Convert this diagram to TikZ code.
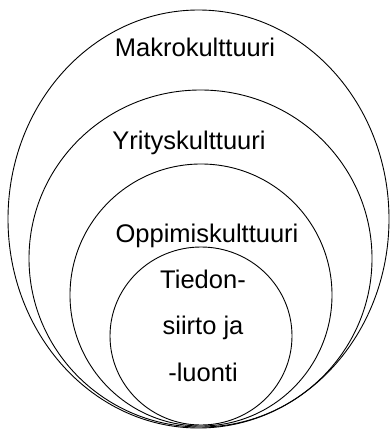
\documentclass[tikz,border=0pt]{standalone}
\usepackage{fontspec}
\setmainfont{Liberation Sans}
\usetikzlibrary{shapes.geometric}

\begin{document}
\begin{tikzpicture}[
    x=1pt, y=-1pt,
    font=\fontsize{25.5}{46.5}\selectfont,
    ring/.style={draw, ellipse, line width=0.9pt, inner sep=0pt},
    lbl/.style={anchor=base, align=center, inner sep=0pt},
  ]
    \useasboundingbox (0,0) rectangle (389,430);

    \node[ring, minimum width=381pt, minimum height=418pt] (makro) at (198.5,219) {};
    \node[ring, minimum width=343pt, minimum height=337pt] (yritys) at (200.5,258.5) {};
    \node[ring, minimum width=262pt, minimum height=262pt] (oppi) at (201,295) {};
    \node[ring, minimum width=182pt, minimum height=178pt] (tieto) at (201,336) {};

    \node[lbl] (makrolbl) at (195,57) {Makrokulttuuri};
    \node[lbl] (yrityslbl) at (189,150) {Yrityskulttuuri};
    \node[lbl] (oppilbl) at (207,242) {Oppimiskulttuuri};
    % base anchor sits on the last line
    \node[lbl] (tietolbl) at (203,381) {Tiedon-\\siirto ja\\-luonti};
  \end{tikzpicture}
\end{document}
